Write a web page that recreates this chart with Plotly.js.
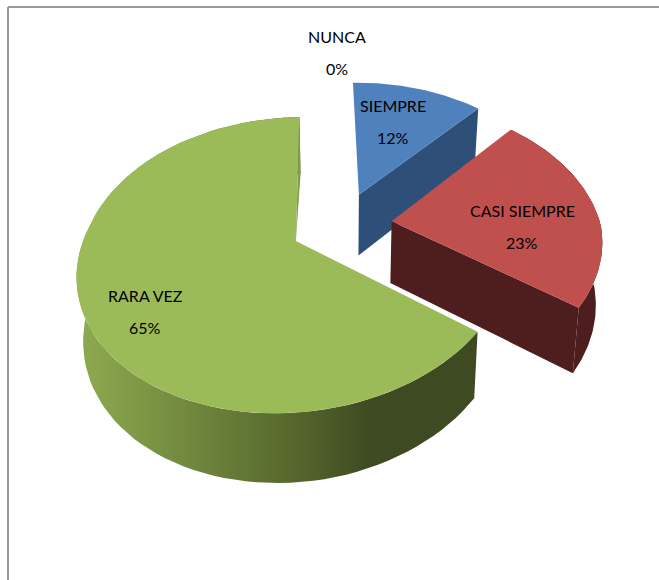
<!DOCTYPE html>
<html>
<head>
<meta charset="utf-8">
<script src="https://cdn.plot.ly/plotly-3.0.1.min.js"></script>
<style>body { margin: 0; background: #fff; }</style>
</head>
<body>
<div id="graph" style="width:659px;height:580px"></div>
<script>
// chart values, in drawing order round the pie
var categories = ['SIEMPRE', 'CASI SIEMPRE', 'RARA VEZ', 'NUNCA'];
var percents = [12, 23, 65, 0];

// colours of the top faces and the walls
var topColors = ['#4f81bd', '#c0504d', '#9bbb59'];
var wallColors = ['#2d4f78', '#4d1e1d', '#7f9a48'];

// where the label of each slice sits on the page
var labelX = [393, 522, 145, 337];
var labelY = [105, 210, 295, 36];
var labelGap = 32;

// projection of the tilted pie on to the page
var cx = 342, cy = 225;  // page position of the pie axis
var B = 209, A = 139;    // horizontal and vertical scale
var persp = 0.16;        // perspective strength
var explode = 0.24;      // how far slices are pulled out
var depth = 62;          // wall height
var shrink = 0.975;      // bottom rim is slightly narrower
var lean = 0.07;         // front of the pie leans left
var startAngle = -1.2;   // degrees, clockwise from the back

function rad (d) { return d * Math.PI / 180; }

function project (u, v, bottom) {
	var w = 1 + persp * v;
	var Y = -A * v / w;
	var X = B * u / w - lean * Math.max(0, Y);
	if (bottom) {
		X = X * shrink;
		Y = Y + depth / Math.pow(w, 0.6);
	}
	return [cx + X, cy + Y];
}

// point of slice with pull direction mid, at angle a, radius r
function slicePoint (mid, a, r, bottom) {
	var u = explode * Math.sin(rad(mid)) + r * Math.sin(rad(a));
	var v = explode * Math.cos(rad(mid)) + r * Math.cos(rad(a));
	return project(u, v, bottom);
}

function polygon (pts, color, extra) {
	var trace = {
		x: pts.map(function (p) { return p[0]; }),
		y: pts.map(function (p) { return p[1]; }),
		mode: 'lines',
		line: {width: 0},
		fill: 'toself',
		fillcolor: color,
		hoverinfo: 'skip',
		showlegend: false
	};
	if (extra) trace.fillgradient = extra;
	return trace;
}

function arc (mid, a0, a1, bottom) {
	var pts = [], steps = 90;
	for (var s = 0; s <= steps; s++) {
		pts.push(slicePoint(mid, a0 + (a1 - a0) * s / steps, 1, bottom));
	}
	return pts;
}

var angle = startAngle;
var sliceAngles = [];
for (var i = 0; i < 3; i++) {
	var a0 = angle, a1 = angle + percents[i] * 3.6;
	sliceAngles.push([a0, a1, (a0 + a1) / 2]);
	angle = a1;
}

function buildSlice (i) {
	var a0 = sliceAngles[i][0], a1 = sliceAngles[i][1], mid = sliceAngles[i][2];
	var data = [];
	var apexTop = slicePoint(mid, 0, 0, false), apexBottom = slicePoint(mid, 0, 0, true);
	var round = arc(mid, a0, a1, false).concat(arc(mid, a0, a1, true).reverse());
	if (i == 2) {
		// green: gradient on the round wall, thin lighter sliver at the cut
		data.push(polygon(round, '#5a6c2f', {
			type: 'horizontal',
			start: 84,
			stop: 472,
			colorscale: [[0, '#8ca94f'], [0.55, '#55662c'], [0.74, '#3e4a22'], [1, '#3e4a22']]
		}));
		data.push(polygon([apexTop, slicePoint(mid, a1, 1, false), slicePoint(mid, a1, 1, true)], wallColors[2]));
	} else {
		// radial face on the far end of the slice
		data.push(polygon([apexTop, slicePoint(mid, a1, 1, false), slicePoint(mid, a1, 1, true), apexBottom], wallColors[i]));
		// the blue round wall faces away, so only red shows one
		if (i == 1) data.push(polygon(round, wallColors[i]));
	}
	data.push(polygon([apexTop].concat(arc(mid, a0, a1, false)), topColors[i]));
	return data;
}

var data = buildSlice(0).concat(buildSlice(2), buildSlice(1));

var annotations = [];
for (var j = 0; j < categories.length; j++) {
	annotations.push({x: labelX[j], y: labelY[j], text: categories[j]});
	annotations.push({x: labelX[j], y: labelY[j] + labelGap, text: percents[j] + '%'});
}
annotations.forEach(function (a) {
	a.xref = 'x';
	a.yref = 'y';
	a.showarrow = false;
	a.xanchor = 'center';
	a.yanchor = 'middle';
	a.font = {family: 'Lato, "Liberation Sans", sans-serif', size: 16, color: '#000'};
});

var layout = {
	width: 659,
	height: 580,
	margin: {l: 0, r: 0, t: 0, b: 0},
	paper_bgcolor: '#fff',
	plot_bgcolor: '#fff',
	showlegend: false,
	xaxis: {range: [0, 659], visible: false, fixedrange: true},
	yaxis: {range: [580, 0], visible: false, fixedrange: true},
	annotations: annotations,
	shapes: [
		{type: 'line', xref: 'x', yref: 'y', x0: 8, x1: 659, y0: 7, y1: 7, line: {color: '#9a9a9a', width: 2}},
		{type: 'line', xref: 'x', yref: 'y', x0: 8, x1: 8, y0: 7, y1: 580, line: {color: '#9a9a9a', width: 2}}
	]
};

Plotly.newPlot('graph', data, layout, {displayModeBar: false, staticPlot: true});
</script>
</body>
</html>
